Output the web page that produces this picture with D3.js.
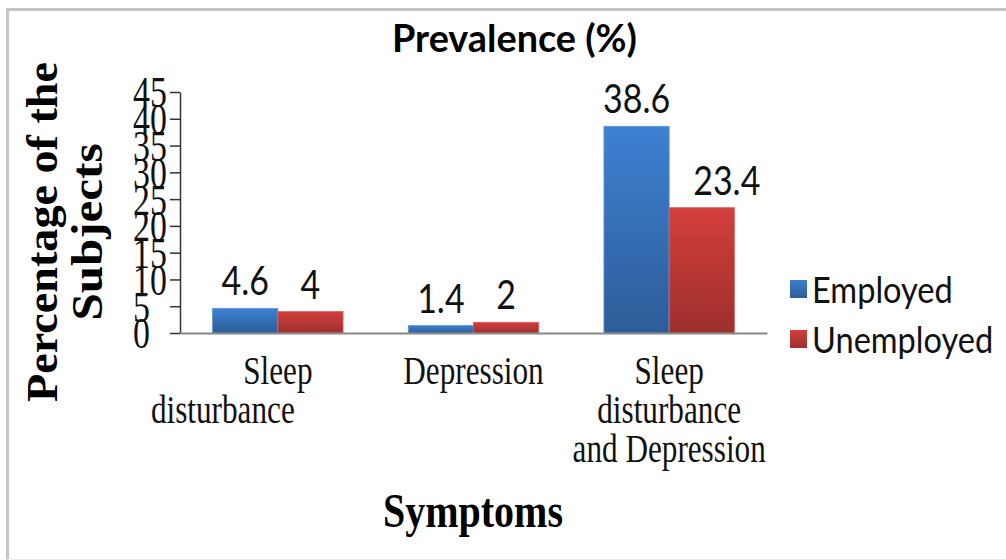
<!DOCTYPE html>
<html>
<head>
<meta charset="utf-8">
<script src="https://cdn.jsdelivr.net/npm/d3@7"></script>
<style>
  html, body { margin: 0; padding: 0; background: #fff; }
  svg { display: block; }
</style>
</head>
<body>
<svg id="chart" width="1006" height="560"></svg>
<script>
// ---- data ----
const categories = ["Sleep disturbance", "Depression", "Sleep disturbance and Depression"];
const categoryLines = [["Sleep", "disturbance"], ["Depression"], ["Sleep", "disturbance", "and Depression"]];
const seriesNames = ["Employed", "Unemployed"];
const employed = [4.6, 1.4, 38.6];
const unemployed = [4, 2, 23.4];
const yTicks = [0, 5, 10, 15, 20, 25, 30, 35, 40, 45];

const chartTitle = "Prevalence (%)";
const yTitleLines = ["Percentage of the", "Subjects"];
const xTitle = "Symptoms";

// ---- layout ----
const svg = d3.select("#chart");
const plot = { left: 180, right: 767, top: 92, bottom: 333 };
const serif = "'Liberation Serif', 'Times New Roman', serif";
const sans = "Lato, 'Open Sans', sans-serif";

const seriesValues = [employed, unemployed];
const rows = categories.map((c, i) => ({
  category: c,
  values: seriesNames.map((s, j) => ({ series: s, value: seriesValues[j][i], ci: i }))
}));

const y = d3.scaleLinear().domain([0, 45]).range([plot.bottom, plot.top]);
const x0 = d3.scaleBand().domain(categories).range([plot.left, plot.right]).padding(0);
const x1 = d3.scaleBand().domain(seriesNames).range([0, x0.bandwidth()])
  .paddingInner(0).paddingOuter(0.5);

const colors = {
  Employed: { top: "#3d80d2", bottom: "#2d5d98", edge: "#5f95d6" },
  Unemployed: { top: "#d33f3c", bottom: "#9d2f2d", edge: "#d96362" }
};

// squeeze a text element horizontally to a given width
function fitWidth(sel, w) {
  sel.attr("textLength", w).attr("lengthAdjust", "spacingAndGlyphs");
}
function squeeze(sel, k) {
  sel.each(function () {
    const n = this.getComputedTextLength();
    d3.select(this).attr("textLength", n * k).attr("lengthAdjust", "spacingAndGlyphs");
  });
}

// ---- frame ----
svg.append("line").attr("x1", 7).attr("x2", 1006).attr("y1", 9.5).attr("y2", 9.5)
  .attr("stroke", "#c4c4c4").attr("stroke-width", 3);
svg.append("line").attr("x1", 7.5).attr("x2", 7.5).attr("y1", 8).attr("y2", 560)
  .attr("stroke", "#c4c4c4").attr("stroke-width", 3);
svg.append("line").attr("x1", 7).attr("x2", 1006).attr("y1", 559.5).attr("y2", 559.5)
  .attr("stroke", "#ececec").attr("stroke-width", 1);

// ---- gradients ----
const defs = svg.append("defs");
seriesNames.forEach((s, i) => {
  const g = defs.append("linearGradient").attr("id", "grad" + i)
    .attr("x1", 0).attr("y1", 0).attr("x2", 0).attr("y2", 1);
  g.append("stop").attr("offset", "0%").attr("stop-color", colors[s].top);
  g.append("stop").attr("offset", "100%").attr("stop-color", colors[s].bottom);
});

// ---- title ----
svg.append("text").attr("x", 514.5).attr("y", 52)
  .attr("text-anchor", "middle").attr("font-family", sans).attr("font-weight", 700)
  .attr("font-size", 38).attr("fill", "#000").text(chartTitle)
  .call(fitWidth, 245);

// ---- bars ----
const groups = svg.append("g").selectAll("g").data(rows).join("g")
  .attr("transform", d => `translate(${x0(d.category)},0)`);

groups.selectAll("rect").data(d => d.values).join("rect")
  .attr("x", d => x1(d.series))
  .attr("y", d => y(d.value))
  .attr("width", x1.bandwidth())
  .attr("height", d => y(0) - y(d.value))
  .attr("fill", d => `url(#grad${seriesNames.indexOf(d.series)})`)
  .attr("stroke", d => colors[d.series].edge)
  .attr("stroke-width", 0.8);

// value labels (the last unemployed label sits slightly to the right)
const labelNudge = { "Unemployed-2": 25 };
groups.selectAll("text.val").data(d => d.values).join("text")
  .attr("class", "val")
  .attr("x", d => x1(d.series) + x1.bandwidth() / 2 + (labelNudge[d.series + "-" + d.ci] || 0))
  .attr("y", d => y(d.value) - 13)
  .attr("text-anchor", "middle").attr("font-family", sans)
  .attr("font-size", 40).attr("fill", "#111")
  .text(d => d.value)
  .call(squeeze, 0.85);

// ---- y axis ----
const yAxis = svg.append("g").attr("transform", `translate(${plot.left},0)`)
  .call(d3.axisLeft(y).tickValues(yTicks).tickSize(10).tickSizeOuter(0).tickFormat(d3.format("d")));
yAxis.select(".domain").attr("stroke", "#333").attr("stroke-width", 1.5);
yAxis.selectAll(".tick line").attr("stroke", "#333").attr("stroke-width", 1.5);
yAxis.selectAll(".tick text")
  .attr("x", 133 - plot.left).attr("dy", "0.34em")
  .attr("text-anchor", "start")
  .attr("font-family", serif).attr("font-size", 44).attr("fill", "#111")
  .call(squeeze, 0.77);

// ---- x axis ----
const xAxis = svg.append("g").attr("transform", `translate(0,${plot.bottom})`)
  .call(d3.axisBottom(x0).tickSize(0).tickSizeOuter(0).tickFormat(""));
xAxis.select(".domain").attr("stroke", "#888").attr("stroke-width", 2);

const lineShift = { "0-1": -55 };
const xLabels = svg.append("g").selectAll("g").data(categories).join("g")
  .attr("transform", d => `translate(${x0(d) + x0.bandwidth() / 2},${plot.bottom})`);
xLabels.each(function (d, i) {
  d3.select(this).selectAll("text").data(categoryLines[i]).join("text")
    .attr("x", (t, k) => lineShift[i + "-" + k] || 0)
    .attr("y", (t, k) => 51 + k * 39)
    .attr("text-anchor", "middle").attr("font-family", serif)
    .attr("font-size", 39).attr("fill", "#111")
    .text(t => t)
    .call(squeeze, 0.8);
});

// ---- axis titles ----
svg.append("text").attr("x", 473).attr("y", 527)
  .attr("text-anchor", "middle").attr("font-family", serif).attr("font-weight", 700)
  .attr("font-size", 48).attr("fill", "#000").text(xTitle)
  .call(fitWidth, 180);

const yTitleX = [57, 102];
const yTitleW = [340, 177];
yTitleLines.forEach((t, i) => {
  svg.append("text")
    .attr("transform", `translate(${yTitleX[i]},232) rotate(-90)`)
    .attr("text-anchor", "middle").attr("font-family", serif).attr("font-weight", 700)
    .attr("font-size", 44).attr("fill", "#000").text(t)
    .call(fitWidth, yTitleW[i]);
});

// ---- legend ----
const legend = svg.append("g").selectAll("g").data(seriesNames).join("g")
  .attr("transform", (d, i) => `translate(790,${280 + i * 50})`);
legend.append("rect").attr("width", 17).attr("height", 18)
  .attr("fill", (d, i) => `url(#grad${i})`);
legend.append("text").attr("x", 22).attr("y", 23)
  .attr("font-family", sans).attr("font-size", 37).attr("fill", "#111")
  .text(d => d)
  .call(squeeze, 0.88);
</script>
</body>
</html>
